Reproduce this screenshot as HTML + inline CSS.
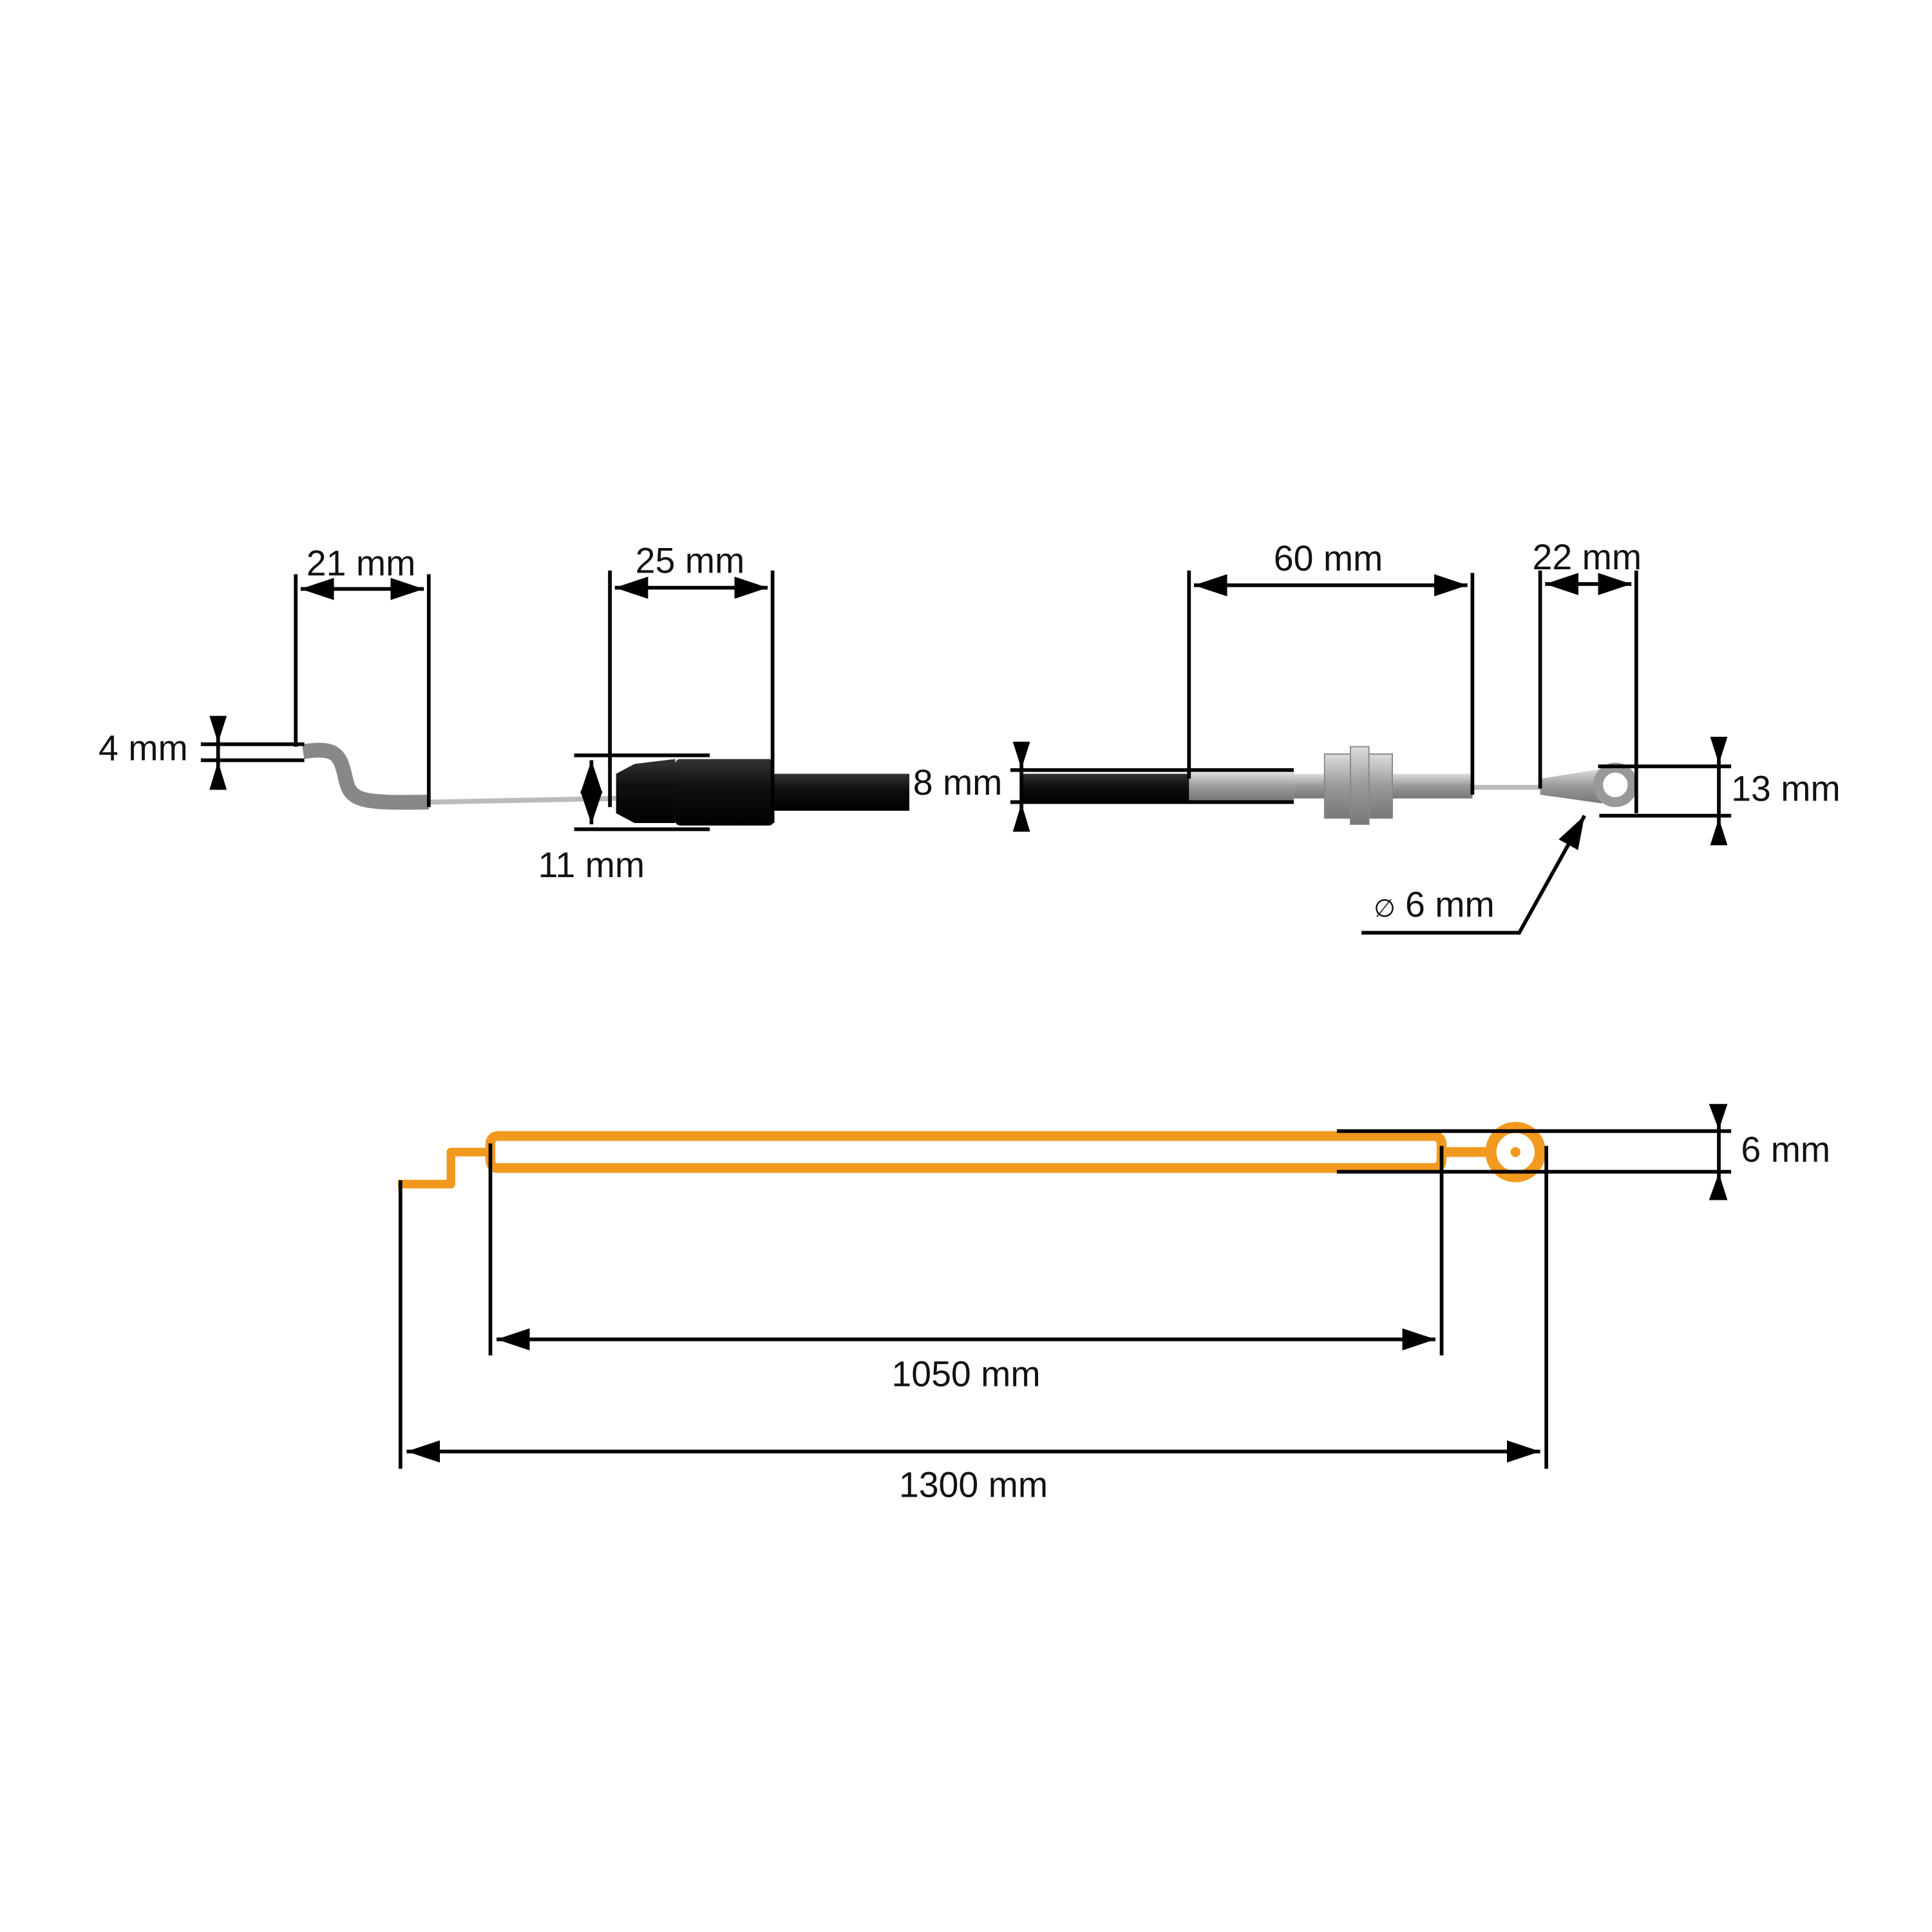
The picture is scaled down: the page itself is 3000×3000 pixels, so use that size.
<!DOCTYPE html>
<html><head><style>html,body{margin:0;padding:0;background:#fff}svg{display:block}</style></head>
<body>
<svg width="3000" height="3000" viewBox="0 0 1568 1568" xmlns="http://www.w3.org/2000/svg" font-family="Liberation Sans, Arial, sans-serif" font-size="29" fill="#111">
<defs>
<marker id="a" markerWidth="9" markerHeight="6" refX="9" refY="3" orient="auto-start-reverse" markerUnits="strokeWidth"><path d="M0,0 L9,3 L0,6 z" fill="#000"/></marker>
<linearGradient id="g" x1="0" y1="0" x2="0" y2="1"><stop offset="0" stop-color="#ddd"/><stop offset=".5" stop-color="#999"/><stop offset="1" stop-color="#777"/></linearGradient>
<linearGradient id="b" x1="0" y1="0" x2="0" y2="1"><stop offset="0" stop-color="#333"/><stop offset=".4" stop-color="#111"/><stop offset="1" stop-color="#000"/></linearGradient>
</defs>
<g stroke="#000" fill="none">
<path d="M246,610 C272,606 276,612 280,630 C284,650 290,652 348,651" stroke="#888" stroke-width="12"/>
<line x1="348" y1="651" x2="500" y2="648" stroke="#bbb" stroke-width="4"/>
<path d="M500,628 L515,620 L548,616 L548,668 L515,668 L500,660 z" fill="url(#b)" stroke="none"/>
<rect x="548" y="616" width="80" height="54" fill="url(#b)" stroke="none" rx="4"/>
<rect x="626" y="628" width="112" height="30" fill="url(#b)" stroke="none"/>
<rect x="830" y="628" width="136" height="24" fill="url(#b)" stroke="none"/>
<rect x="965" y="627" width="85" height="23" fill="url(#g)" stroke="none"/>
<rect x="1050" y="628" width="145" height="20" fill="url(#g)" stroke="none"/>
<rect x="1075" y="612" width="55" height="52" fill="url(#g)" stroke="#888" stroke-width="1"/>
<rect x="1096" y="606" width="15" height="63" fill="url(#g)" stroke="#888" stroke-width="1"/>
<line x1="1195" y1="639" x2="1252" y2="639" stroke="#bbb" stroke-width="4"/>
<path d="M1250,632 L1300,624 L1300,652 L1250,645 z" fill="url(#g)" stroke="none"/>
<circle cx="1311" cy="637" r="14" stroke="#999" stroke-width="8" fill="#fff"/>
<g stroke-width="3">
<line x1="240" y1="466" x2="240" y2="606"/><line x1="348" y1="466" x2="348" y2="655"/>
<line x1="244" y1="478" x2="344" y2="478" marker-start="url(#a)" marker-end="url(#a)"/>
<line x1="163" y1="604" x2="247" y2="604"/><line x1="163" y1="617" x2="247" y2="617"/>
<line x1="177" y1="581" x2="177" y2="641"/>
<line x1="495" y1="463" x2="495" y2="655"/><line x1="627" y1="463" x2="627" y2="668"/>
<line x1="499" y1="477" x2="623" y2="477" marker-start="url(#a)" marker-end="url(#a)"/>
<line x1="466" y1="613" x2="576" y2="613"/><line x1="466" y1="673" x2="576" y2="673"/>
<line x1="480" y1="617" x2="480" y2="669" marker-start="url(#a)" marker-end="url(#a)"/>
<line x1="820" y1="625" x2="1050" y2="625"/><line x1="820" y1="651" x2="1050" y2="651"/>
<line x1="829" y1="602" x2="829" y2="675"/>
<line x1="965" y1="463" x2="965" y2="632"/><line x1="1195" y1="465" x2="1195" y2="645"/>
<line x1="969" y1="475" x2="1191" y2="475" marker-start="url(#a)" marker-end="url(#a)"/>
<line x1="1250" y1="463" x2="1250" y2="640"/><line x1="1328" y1="463" x2="1328" y2="660"/>
<line x1="1254" y1="474" x2="1324" y2="474" marker-start="url(#a)" marker-end="url(#a)"/>
<line x1="1297" y1="622" x2="1405" y2="622"/><line x1="1298" y1="662" x2="1405" y2="662"/>
<line x1="1395" y1="598" x2="1395" y2="686"/>
<polyline points="1105,757 1233,757 1286,662" marker-end="url(#a)"/>
</g>
<g fill="#000" stroke="none">
<path d="M170,581 L184,581 L177,603 z"/><path d="M170,641 L184,641 L177,618 z"/>
<path d="M822,602 L836,602 L829,624 z"/><path d="M822,675 L836,675 L829,652 z"/>
<path d="M1388,598 L1402,598 L1395,620 z"/><path d="M1388,686 L1402,686 L1395,664 z"/>
<path d="M1387,896 L1402,896 L1395,917 z"/><path d="M1387,974 L1402,974 L1395,952 z"/>
</g>
<g stroke="#f29a1f" stroke-width="8" stroke-linejoin="round">
<rect x="398" y="922" width="772" height="26" rx="6"/>
<polyline points="323,961 366,961 366,935 398,935" stroke-width="7"/>
<line x1="1170" y1="935" x2="1210" y2="935"/>
<circle cx="1230" cy="935" r="20" fill="#fff" stroke-width="9"/>
<circle cx="1230" cy="935" r="4" fill="#f29a1f" stroke="none"/>
</g>
<g stroke-width="3">
<line x1="1085" y1="918" x2="1405" y2="918"/><line x1="1085" y1="951" x2="1405" y2="951"/>
<line x1="1395" y1="897" x2="1395" y2="973"/>
<line x1="398" y1="928" x2="398" y2="1100"/><line x1="1170" y1="930" x2="1170" y2="1100"/>
<line x1="403" y1="1087" x2="1165" y2="1087" marker-start="url(#a)" marker-end="url(#a)"/>
<line x1="325" y1="958" x2="325" y2="1192"/><line x1="1255" y1="930" x2="1255" y2="1192"/>
<line x1="330" y1="1178" x2="1250" y2="1178" marker-start="url(#a)" marker-end="url(#a)"/>
</g>
</g>
<text x="293" y="467" text-anchor="middle">21 mm</text>
<text x="80" y="617">4 mm</text>
<text x="560" y="465" text-anchor="middle">25 mm</text>
<text x="480" y="712" text-anchor="middle">11 mm</text>
<text x="741" y="645">8 mm</text>
<text x="1078" y="463" text-anchor="middle">60 mm</text>
<text x="1288" y="462" text-anchor="middle">22 mm</text>
<text x="1405" y="650">13 mm</text>
<text x="1115" y="744"><tspan font-size="20">∅</tspan> 6 mm</text>
<text x="1413" y="943">6 mm</text>
<text x="784" y="1125" text-anchor="middle">1050 mm</text>
<text x="790" y="1215" text-anchor="middle">1300 mm</text>
</svg>
</body></html>
